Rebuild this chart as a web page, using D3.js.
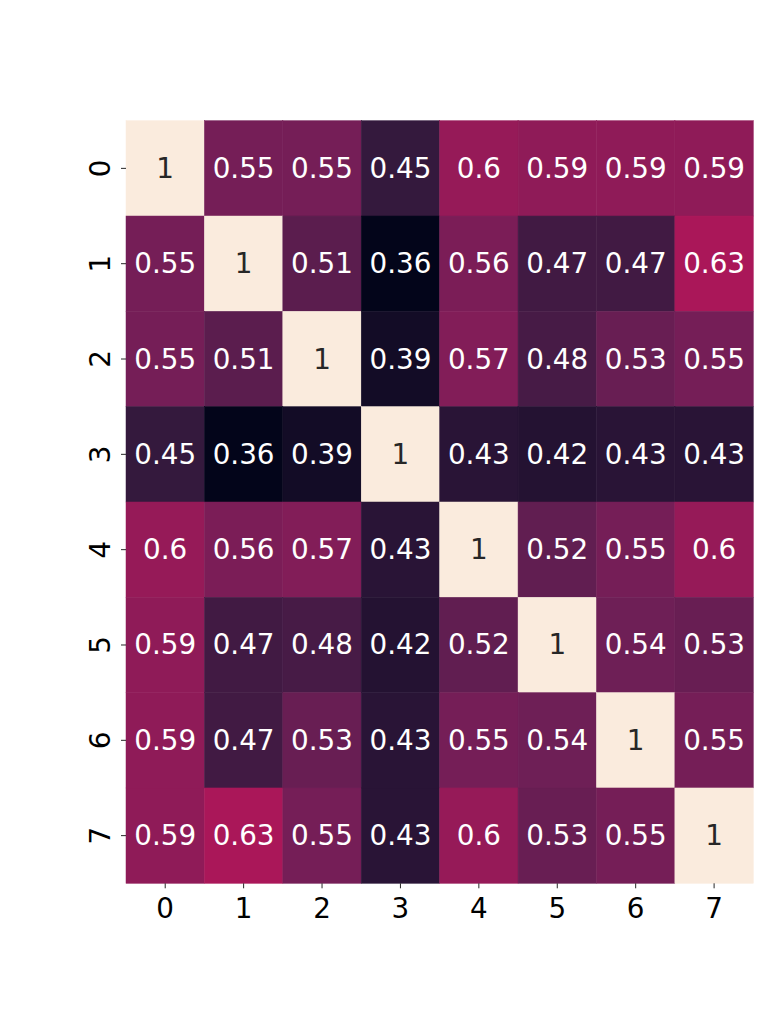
<!DOCTYPE html>
<html>
<head>
<meta charset="utf-8">
<script src="https://cdn.jsdelivr.net/npm/d3@7"></script>
<style>
  body { margin: 0; background: #fff; }
  text { font-family: "DejaVu Sans", sans-serif; }
</style>
</head>
<body>
<div id="chart"></div>
<script>
let labels = ["0", "1", "2", "3", "4", "5", "6", "7"];
let values = [
  [1, 0.55, 0.55, 0.45, 0.6, 0.59, 0.59, 0.59],
  [0.55, 1, 0.51, 0.36, 0.56, 0.47, 0.47, 0.63],
  [0.55, 0.51, 1, 0.39, 0.57, 0.48, 0.53, 0.55],
  [0.45, 0.36, 0.39, 1, 0.43, 0.42, 0.43, 0.43],
  [0.6, 0.56, 0.57, 0.43, 1, 0.52, 0.55, 0.6],
  [0.59, 0.47, 0.48, 0.42, 0.52, 1, 0.54, 0.53],
  [0.59, 0.47, 0.53, 0.43, 0.55, 0.54, 1, 0.55],
  [0.59, 0.63, 0.55, 0.43, 0.6, 0.53, 0.55, 1]
];
// rocket colormap stops
let rocket = ["#03051a", "#35193e", "#701f57", "#ad1759", "#e13342", "#f37651", "#f6b48f", "#faebdd"];

let width = 778, height = 1010;
let plotLeft = 126, plotRight = 753.3, plotTop = 120.7, plotBottom = 883.3;
let fontPx = 27.8;

let svg = d3.select("#chart").append("svg")
  .attr("width", width)
  .attr("height", height);

let x = d3.scaleBand().domain(labels).range([plotLeft, plotRight]);
let y = d3.scaleBand().domain(labels).range([plotTop, plotBottom]);

let flat = [];
values.forEach(function (row, i) {
  row.forEach(function (v, j) {
    flat.push({ row: labels[i], col: labels[j], value: v });
  });
});

let vmin = d3.min(flat, d => d.value), vmax = d3.max(flat, d => d.value);
let interp = d3.piecewise(d3.interpolateRgb, rocket);
let color = d3.scaleSequential(interp).domain([vmin, vmax]);

function textColor(v) {
  let c = d3.rgb(color(v));
  let lin = [c.r, c.g, c.b].map(function (u) {
    u = u / 255;
    return u <= 0.03928 ? u / 12.92 : Math.pow((u + 0.055) / 1.055, 2.4);
  });
  let lum = 0.2126 * lin[0] + 0.7152 * lin[1] + 0.0722 * lin[2];
  return lum > 0.408 ? "#262626" : "#ffffff";
}

svg.selectAll(".cell")
  .data(flat)
  .enter()
  .append("rect")
  .attr("class", "cell")
  .attr("x", d => x(d.col))
  .attr("y", d => y(d.row))
  .attr("width", x.bandwidth())
  .attr("height", y.bandwidth())
  .style("fill", d => color(d.value))
  .style("stroke", d => color(d.value))
  .style("stroke-width", 0.5);

svg.selectAll(".annot")
  .data(flat)
  .enter()
  .append("text")
  .attr("class", "annot")
  .attr("x", d => x(d.col) + x.bandwidth() / 2)
  .attr("y", d => y(d.row) + y.bandwidth() / 2)
  .attr("text-anchor", "middle")
  .attr("dominant-baseline", "central")
  .style("font-size", fontPx + "px")
  .style("fill", d => textColor(d.value))
  .text(d => String(d.value));

// x axis
let xAxis = svg.append("g")
  .attr("transform", "translate(0," + plotBottom + ")")
  .call(d3.axisBottom(x).tickSize(5).tickPadding(10));
xAxis.select(".domain").remove();
xAxis.selectAll("line").style("stroke", "#262626").style("stroke-width", 1);
xAxis.selectAll("text")
  .style("font-size", fontPx + "px")
  .style("font-family", "DejaVu Sans")
  .style("fill", "#000");

// y axis
let yAxis = svg.append("g")
  .attr("transform", "translate(" + plotLeft + ",0)")
  .call(d3.axisLeft(y).tickSize(5).tickPadding(10));
yAxis.select(".domain").remove();
yAxis.selectAll("line").style("stroke", "#262626").style("stroke-width", 1);
yAxis.selectAll("text")
  .style("font-size", fontPx + "px")
  .style("font-family", "DejaVu Sans")
  .style("fill", "#000")
  .attr("x", 0)
  .attr("dy", null)
  .attr("text-anchor", "middle")
  .attr("transform", "translate(-16,0) rotate(-90)");
</script>
</body>
</html>
